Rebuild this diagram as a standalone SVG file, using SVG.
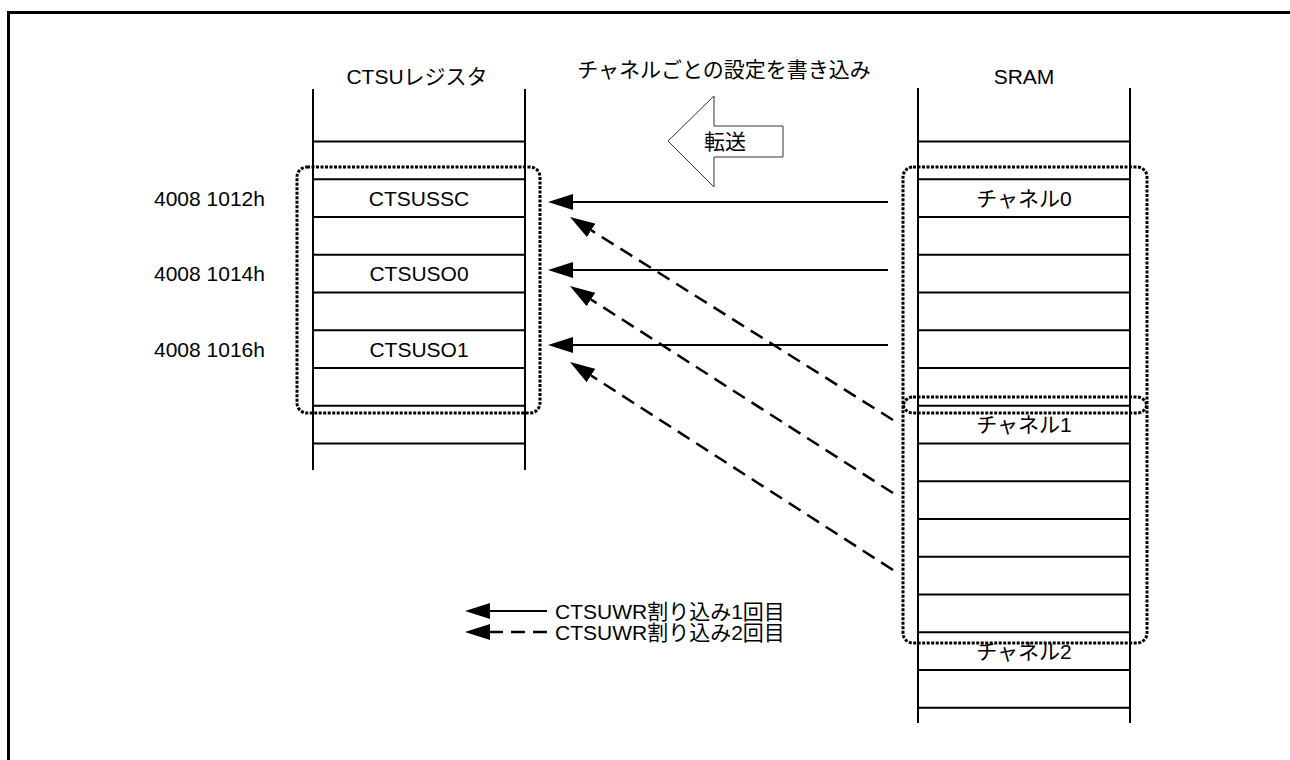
<svg xmlns="http://www.w3.org/2000/svg" width="1290" height="760" viewBox="0 0 1290 760">
<style>
text{font-family:"Liberation Sans","Noto Sans CJK JP",sans-serif;font-size:21px;fill:#000}
.c{text-anchor:middle}
.tl{stroke:#000;stroke-width:2;fill:none}
.dot{stroke:#000;stroke-width:3;stroke-dasharray:3 1.5;fill:none}
.sol{stroke:#000;stroke-width:2;fill:none}
.dsh{stroke:#000;stroke-width:2.5;stroke-dasharray:14 8;fill:none}
</style>
<defs>
<marker id="ah" viewBox="0 -8 25 16" refX="0" refY="0" markerWidth="25" markerHeight="16" markerUnits="userSpaceOnUse" orient="auto">
<path d="M0,-8 L25,0 L0,8 Z" fill="#000"/>
</marker>
</defs>
<rect x="8.5" y="12.5" width="1400" height="900" fill="none" stroke="#000" stroke-width="3"/>

<g id="ctsu-register">
<text class="c" x="417" y="84">CTSUレジスタ</text>
<path class="tl" d="M313,89 V470 M525,89 V470"/>
<path class="tl" d="M313,141.5 H525 M313,179.25 H525 M313,217 H525 M313,254.75 H525 M313,292.5 H525 M313,330.25 H525 M313,368 H525 M313,405.75 H525 M313,443.5 H525"/>
<text class="c" x="419" y="205.5">CTSUSSC</text>
<text class="c" x="419" y="281">CTSUSO0</text>
<text class="c" x="419" y="356.5">CTSUSO1</text>
<text x="154" y="205.5">4008 1012h</text>
<text x="154" y="281">4008 1014h</text>
<text x="154" y="356.5">4008 1016h</text>
<rect class="dot" x="297" y="167" width="243" height="246" rx="10"/>
</g>

<g id="sram">
<text class="c" x="1024" y="84">SRAM</text>
<path class="tl" d="M918,88 V723 M1130,88 V723"/>
<path class="tl" d="M918,141.5 H1130 M918,179.25 H1130 M918,217 H1130 M918,254.75 H1130 M918,292.5 H1130 M918,330.25 H1130 M918,368 H1130 M918,405.75 H1130 M918,443.5 H1130 M918,481.25 H1130 M918,519 H1130 M918,556.75 H1130 M918,594.5 H1130 M918,632.25 H1130 M918,670 H1130 M918,707.75 H1130"/>
<text class="c" x="1024" y="205.5">チャネル0</text>
<text class="c" x="1024" y="432">チャネル1</text>
<text class="c" x="1024" y="659">チャネル2</text>
<rect class="dot" x="903" y="167" width="244" height="246" rx="10"/>
<rect class="dot" x="903" y="397" width="244" height="246" rx="10"/>
</g>

<g id="transfer">
<text class="c" x="724" y="77">チャネルごとの設定を書き込み</text>
<polygon points="668,141 714,96 714,126 783,126 783,157 714,157 714,187" fill="#fff" stroke="#333" stroke-width="1"/>
<text class="c" x="725" y="149">転送</text>
</g>

<g id="connectors">
<line class="sol" x1="888" y1="202" x2="573" y2="202" marker-end="url(#ah)"/>
<line class="sol" x1="888" y1="270" x2="573" y2="270" marker-end="url(#ah)"/>
<line class="sol" x1="888" y1="345" x2="573" y2="345" marker-end="url(#ah)"/>
<line class="dsh" x1="893" y1="420" x2="591.2" y2="230.3" marker-end="url(#ah)"/>
<line class="dsh" x1="893" y1="493" x2="591" y2="299.5" marker-end="url(#ah)"/>
<line class="dsh" x1="893" y1="570" x2="591" y2="375.5" marker-end="url(#ah)"/>
</g>

<g id="legend">
<line class="sol" x1="547" y1="611" x2="490" y2="611" marker-end="url(#ah)"/>
<text x="555" y="618.5">CTSUWR割り込み1回目</text>
<line class="dsh" x1="547" y1="632" x2="490" y2="632" stroke-dasharray="13 9" marker-end="url(#ah)"/>
<text x="555" y="639.5">CTSUWR割り込み2回目</text>
</g>
</svg>
